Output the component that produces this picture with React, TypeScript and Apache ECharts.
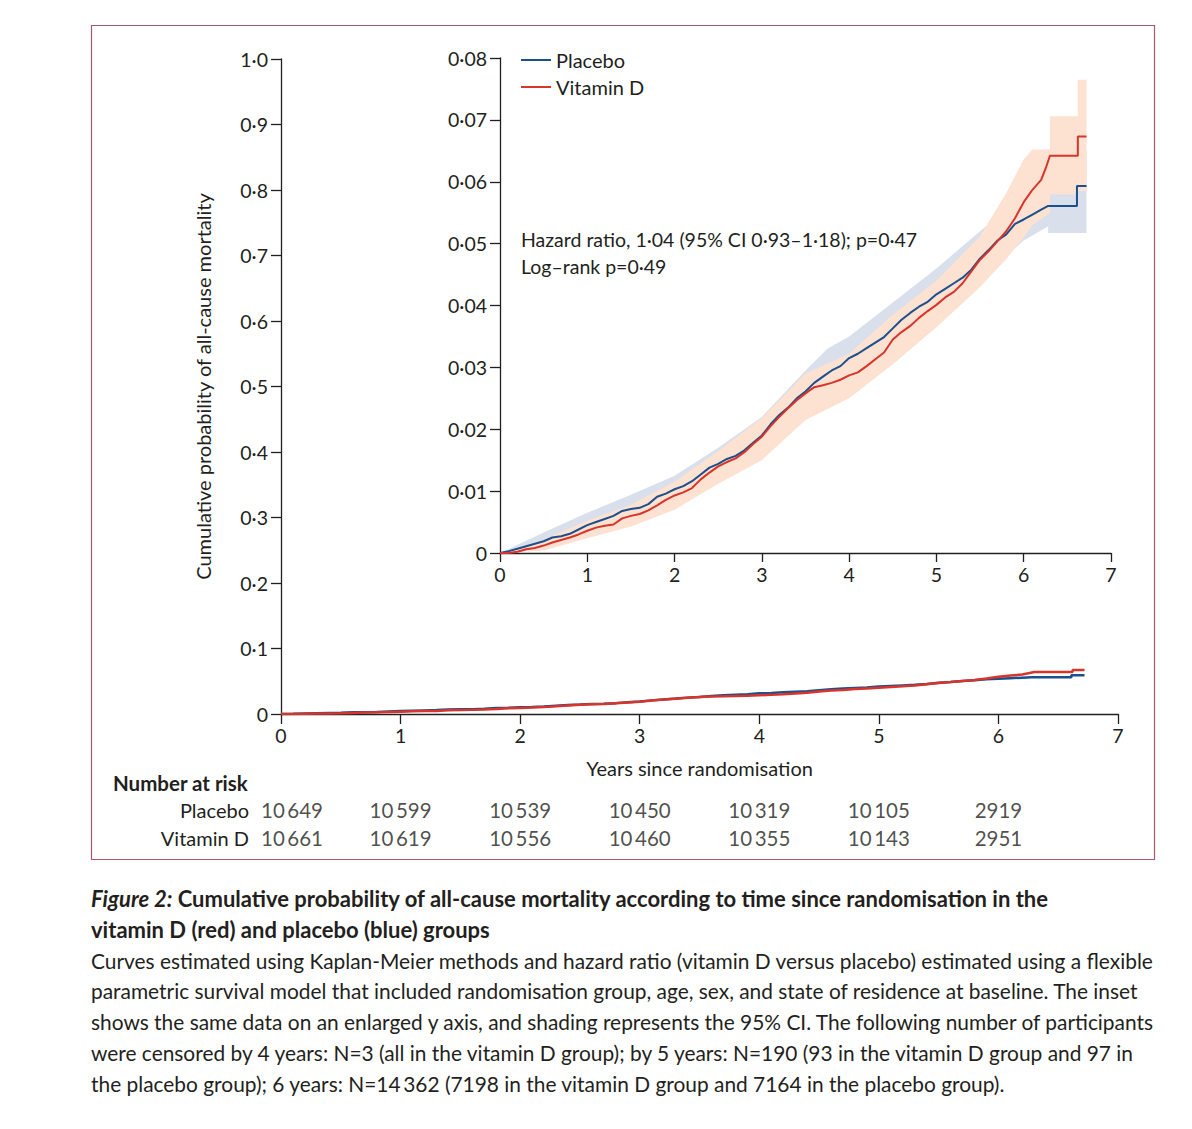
import React, { useEffect, useRef } from "react";
import * as echarts from "echarts";

// ---------- data ----------
const placeboYears = [
  0, 0.1, 0.2, 0.3, 0.4, 0.5, 0.6, 0.7, 0.8, 0.9, 1.0, 1.1, 1.2, 1.3, 1.4, 1.5, 1.6, 1.7, 1.8, 1.9,
  2.0, 2.1, 2.2, 2.3, 2.4, 2.5, 2.6, 2.7, 2.8, 2.9, 3.0, 3.1, 3.2, 3.3, 3.4, 3.5, 3.6, 3.7, 3.8, 3.9,
  4.0, 4.1, 4.2, 4.3, 4.4, 4.5, 4.6, 4.7, 4.8, 4.9, 5.0, 5.1, 5.2, 5.3, 5.4, 5.5, 5.6, 5.7, 5.8, 5.9,
  6.0, 6.1, 6.2, 6.28, 6.61, 6.61, 6.72,
];
const placeboRisk = [
  0, 0.0003, 0.0007, 0.0011, 0.0015, 0.0019, 0.0025, 0.0027, 0.0031, 0.0038, 0.0045, 0.005, 0.0055, 0.006, 0.0068, 0.0071, 0.0073, 0.0079, 0.0091, 0.0096,
  0.0103, 0.0108, 0.0116, 0.0127, 0.0138, 0.0144, 0.0152, 0.0157, 0.0166, 0.0178, 0.019, 0.0208, 0.0223, 0.0235, 0.025, 0.0261, 0.0275, 0.0285, 0.0295, 0.0302,
  0.0315, 0.0322, 0.0331, 0.034, 0.0349, 0.0363, 0.0377, 0.0388, 0.0398, 0.0406, 0.0418, 0.0427, 0.0436, 0.0445, 0.0458, 0.0476, 0.049, 0.0505, 0.0515, 0.0532,
  0.0539, 0.0547, 0.0555, 0.0561, 0.0561, 0.0593, 0.0593,
];
const vitaminDYears = [
  0, 0.1, 0.2, 0.3, 0.4, 0.5, 0.6, 0.7, 0.8, 0.9, 1.0, 1.1, 1.2, 1.3, 1.4, 1.5, 1.6, 1.7, 1.8, 1.9,
  2.0, 2.1, 2.2, 2.3, 2.4, 2.5, 2.6, 2.7, 2.8, 2.9, 3.0, 3.1, 3.2, 3.3, 3.4, 3.5, 3.6, 3.7, 3.8, 3.9,
  4.0, 4.1, 4.2, 4.3, 4.4, 4.5, 4.6, 4.7, 4.8, 4.9, 5.0, 5.1, 5.2, 5.3, 5.4, 5.5, 5.6, 5.7, 5.8, 5.9,
  6.0, 6.1, 6.2, 6.26, 6.3, 6.62, 6.62, 6.72,
];
const vitaminDRisk = [
  0, 0, 0.0002, 0.0006, 0.0008, 0.0012, 0.0017, 0.0021, 0.0025, 0.003, 0.0036, 0.0041, 0.0044, 0.0046, 0.0056, 0.006, 0.0063, 0.0069, 0.0077, 0.0086,
  0.0093, 0.0098, 0.0105, 0.0119, 0.013, 0.014, 0.0147, 0.0153, 0.0163, 0.0176, 0.0188, 0.0205, 0.022, 0.0234, 0.0247, 0.0258, 0.0268, 0.0271, 0.0275, 0.028,
  0.0287, 0.0292, 0.0302, 0.0313, 0.0324, 0.0345, 0.0357, 0.0367, 0.038, 0.0391, 0.0401, 0.0413, 0.0422, 0.0436, 0.0455, 0.0474, 0.0488, 0.0504, 0.052, 0.0541,
  0.0567, 0.0587, 0.0603, 0.0625, 0.0642, 0.0642, 0.0673, 0.0673,
];

// 95% CI shading
const placeboBandYears = [0, 0.5, 1, 1.5, 2, 2.5, 3, 3.5, 3.75, 4, 4.5, 5, 5.5, 5.8, 6.0, 6.28, 6.28, 6.61, 6.61, 6.72];
const placeboBandLow = [0, 0.0009, 0.0028, 0.0048, 0.008, 0.0118, 0.0158, 0.0222, 0.0255, 0.0278, 0.032, 0.0378, 0.044, 0.048, 0.0505, 0.0528, 0.0517, 0.0517, 0.0517, 0.0517];
const placeboBandHigh = [0, 0.0033, 0.0065, 0.0094, 0.0125, 0.017, 0.022, 0.0295, 0.033, 0.035, 0.0405, 0.046, 0.052, 0.0555, 0.058, 0.06, 0.061, 0.061, 0.065, 0.065];

const vitaminDBandYears = [0, 0.5, 1, 1.5, 2, 2.5, 3, 3.5, 4, 4.5, 5, 5.5, 5.8, 6.0, 6.1, 6.3, 6.3, 6.62, 6.62, 6.72];
const vitaminDBandLow = [0, 0.0004, 0.0024, 0.0043, 0.007, 0.0112, 0.015, 0.0215, 0.025, 0.0305, 0.0365, 0.043, 0.0475, 0.051, 0.053, 0.055, 0.058, 0.058, 0.0585, 0.0585];
const vitaminDBandHigh = [0, 0.0022, 0.0052, 0.0078, 0.0115, 0.0165, 0.0218, 0.029, 0.0322, 0.0385, 0.044, 0.0512, 0.0582, 0.0636, 0.0652, 0.0652, 0.0706, 0.0706, 0.0765, 0.0765];

// number at risk
const riskYears = [0, 1, 2, 3, 4, 5, 6];
const placeboAtRisk = [10649, 10599, 10539, 10450, 10319, 10105, 2919];
const vitaminDAtRisk = [10661, 10619, 10556, 10460, 10355, 10143, 2951];
const groups = ["Placebo", "Vitamin D"];

const captionLines = [
  "Curves estimated using Kaplan-Meier methods and hazard ratio (vitamin D versus placebo) estimated using a flexible",
  "parametric survival model that included randomisation group, age, sex, and state of residence at baseline. The inset",
  "shows the same data on an enlarged y axis, and shading represents the 95% CI. The following number of participants",
  "were censored by 4 years: N=3 (all in the vitamin D group); by 5 years: N=190 (93 in the vitamin D group and 97 in",
  "the placebo group); 6 years: N=14\u2009362 (7198 in the vitamin D group and 7164 in the placebo group).",
];

// ---------- styling ----------
const FONT = "Lato, 'Noto Sans', sans-serif";
const INK = "#231f20";
const BLUE = "#1b4f8d";
const RED = "#d7352b";
const BLUE_BAND = "#d9e0ec";
const ORANGE_BAND = "#fde1d1";
const TICK_FS = 19.5;
const TEXT_FS = 20;

const dec = (v: number, d: number) => (v === 0 ? "0" : v.toFixed(d).replace(".", "\u00b7"));
const thin = (n: number) =>
  n >= 10000 ? `${Math.floor(n / 1000)}\u2009${String(n % 1000).padStart(3, "0")}` : String(n);

const pairs = (xs: number[], ys: number[]) => xs.map((x, i) => [x, ys[i]]);

const bandSeries = (xs: number[], lo: number[], hi: number[], color: string) => ({
  type: "custom",
  xAxisIndex: 1,
  yAxisIndex: 1,
  silent: true,
  data: [[0, 0]],
  renderItem: (_p: any, api: any) => {
    const pts: number[][] = [];
    for (let i = 0; i < xs.length; i++) pts.push(api.coord([xs[i], hi[i]]));
    for (let i = xs.length - 1; i >= 0; i--) pts.push(api.coord([xs[i], lo[i]]));
    return { type: "polygon", shape: { points: pts }, style: { fill: color } };
  },
});

const axisCommon = {
  axisLine: { show: true, lineStyle: { color: INK, width: 1.3 } },
  axisTick: { show: true, inside: false, length: 10, lineStyle: { color: INK, width: 1.3 } },
  splitLine: { show: false },
};

export default function App() {
  const ref = useRef<HTMLDivElement>(null);

  useEffect(() => {
    if (!ref.current) return;
    const chart = echarts.init(ref.current, undefined, { renderer: "svg" });

    const atRiskData = (vals: number[], g: string) =>
      riskYears.map((t, i) => ({
        value: [t, g, vals[i]],
        label: i === 0 ? { offset: [11, 0] } : undefined,
      }));

    const option: any = {
      animation: false,
      textStyle: { fontFamily: FONT, color: INK },
      grid: [
        { left: 281, right: 74, top: 59, bottom: 1129 - 714, containLabel: false },
        { left: 500, right: 81, top: 58, bottom: 1129 - 553, containLabel: false },
        { left: 281, right: 74, top: 796, height: 56, containLabel: false },
      ],
      xAxis: [
        {
          type: "value", gridIndex: 0, min: 0, max: 7, interval: 1, ...axisCommon,
          axisLabel: { margin: 11, fontSize: TICK_FS, color: INK, fontFamily: FONT },
          name: "Years since randomisation", nameLocation: "middle", nameGap: 44,
          nameTextStyle: { fontSize: TEXT_FS, color: INK, fontFamily: FONT },
        },
        {
          type: "value", gridIndex: 1, min: 0, max: 7, interval: 1, ...axisCommon,
          axisTick: { ...axisCommon.axisTick, length: 9 },
          axisLabel: { margin: 11, fontSize: TICK_FS, color: INK, fontFamily: FONT },
        },
        {
          type: "value", gridIndex: 2, min: 0, max: 7, interval: 1, show: false,
        },
      ],
      yAxis: [
        {
          type: "value", gridIndex: 0, min: 0, max: 1, interval: 0.1, ...axisCommon,
          axisLabel: { margin: 13, fontSize: TICK_FS, color: INK, fontFamily: FONT, formatter: (v: number) => dec(v, 1) },
          name: "Cumulative probability of all-cause mortality", nameLocation: "middle", nameGap: 68,
          nameTextStyle: { fontSize: TEXT_FS, color: INK, fontFamily: FONT },
        },
        {
          type: "value", gridIndex: 1, min: 0, max: 0.08, interval: 0.01, ...axisCommon,
          axisLabel: { margin: 13, fontSize: TICK_FS, color: INK, fontFamily: FONT, formatter: (v: number) => dec(v, 2) },
        },
        {
          type: "category", gridIndex: 2, data: groups, inverse: true,
          axisLine: { show: false }, axisTick: { show: false }, splitLine: { show: false },
          axisLabel: { margin: 32, fontSize: TEXT_FS, color: INK, fontFamily: FONT },
        },
      ],
      legend: {
        data: ["Placebo", "Vitamin D"],
        orient: "vertical",
        left: 521,
        top: 50,
        padding: 0,
        icon: "rect",
        itemWidth: 30,
        itemHeight: 2,
        itemGap: 7,
        textStyle: { fontSize: TEXT_FS, color: INK, fontFamily: FONT, lineHeight: 20 },
      },
      series: [
        bandSeries(placeboBandYears, placeboBandLow, placeboBandHigh, BLUE_BAND),
        bandSeries(vitaminDBandYears, vitaminDBandLow, vitaminDBandHigh, ORANGE_BAND),
        {
          name: "Placebo", type: "line", xAxisIndex: 1, yAxisIndex: 1, color: BLUE,
          data: pairs(placeboYears, placeboRisk), showSymbol: false, symbol: "none",
          lineStyle: { color: BLUE, width: 2 },
        },
        {
          name: "Vitamin D", type: "line", xAxisIndex: 1, yAxisIndex: 1, color: RED,
          data: pairs(vitaminDYears, vitaminDRisk), showSymbol: false, symbol: "none",
          lineStyle: { color: RED, width: 2 },
        },
        {
          name: "Placebo", type: "line", xAxisIndex: 0, yAxisIndex: 0, color: BLUE,
          data: pairs(placeboYears, placeboRisk), showSymbol: false, symbol: "none",
          lineStyle: { color: BLUE, width: 2.5 },
        },
        {
          name: "Vitamin D", type: "line", xAxisIndex: 0, yAxisIndex: 0, color: RED,
          data: pairs(vitaminDYears, vitaminDRisk), showSymbol: false, symbol: "none",
          lineStyle: { color: RED, width: 2.5 },
        },
        {
          type: "scatter", xAxisIndex: 2, yAxisIndex: 2, symbolSize: 1, silent: true,
          itemStyle: { color: "rgba(0,0,0,0)" },
          encode: { x: 0, y: 1 },
          label: { show: true, position: "inside", fontSize: 20.5, color: INK, fontFamily: FONT,
            formatter: (p: any) => thin(p.value[2]) },
          data: [...atRiskData(placeboAtRisk, "Placebo"), ...atRiskData(vitaminDAtRisk, "Vitamin D")],
        },
      ],
      graphic: [
        {
          type: "rect", silent: true,
          shape: { x: 91.5, y: 25.5, width: 1063, height: 834 },
          style: { fill: "none", stroke: "#a45a6c", lineWidth: 1.2 },
        },
        {
          type: "text", x: 521, y: 239,
          style: { text: "Hazard ratio, 1\u00b704 (95% CI 0\u00b793\u20131\u00b718); p=0\u00b747", fontSize: 19.5, fill: INK, fontFamily: FONT, verticalAlign: "middle" },
        },
        {
          type: "text", x: 521, y: 266,
          style: { text: "Log\u2013rank p=0\u00b749", fontSize: 19.5, fill: INK, fontFamily: FONT, verticalAlign: "middle" },
        },
        {
          type: "text", x: 113, y: 783,
          style: { text: "Number at risk", fontSize: 20.5, fontWeight: "bold", fill: INK, fontFamily: FONT, verticalAlign: "middle" },
        },
        {
          type: "text", x: 91, y: 898,
          style: {
            text: "{i|Figure 2:}{b| Cumulative probability of all-cause mortality according to time since randomisation in the}",
            verticalAlign: "middle",
            rich: {
              i: { fontSize: 22, fontStyle: "italic", fontWeight: "bold", fill: INK, fontFamily: FONT },
              b: { fontSize: 22, fontWeight: "bold", fill: INK, fontFamily: FONT },
            },
          },
        },
        {
          type: "text", x: 91, y: 929,
          style: { text: "vitamin D (red) and placebo (blue) groups", fontSize: 22, fontWeight: "bold", fill: INK, fontFamily: FONT, verticalAlign: "middle" },
        },
        ...captionLines.map((line, i) => ({
          type: "text", x: 91, y: 960 + i * 30.8,
          style: { text: line, fontSize: 20.9, fill: INK, fontFamily: FONT, verticalAlign: "middle" },
        })),
      ],
    };

    chart.setOption(option);
    return () => chart.dispose();
  }, []);

  return <div ref={ref} style={{ position: "absolute", left: 0, top: 0, width: 1192, height: 1129, background: "#fff" }} />;
}
